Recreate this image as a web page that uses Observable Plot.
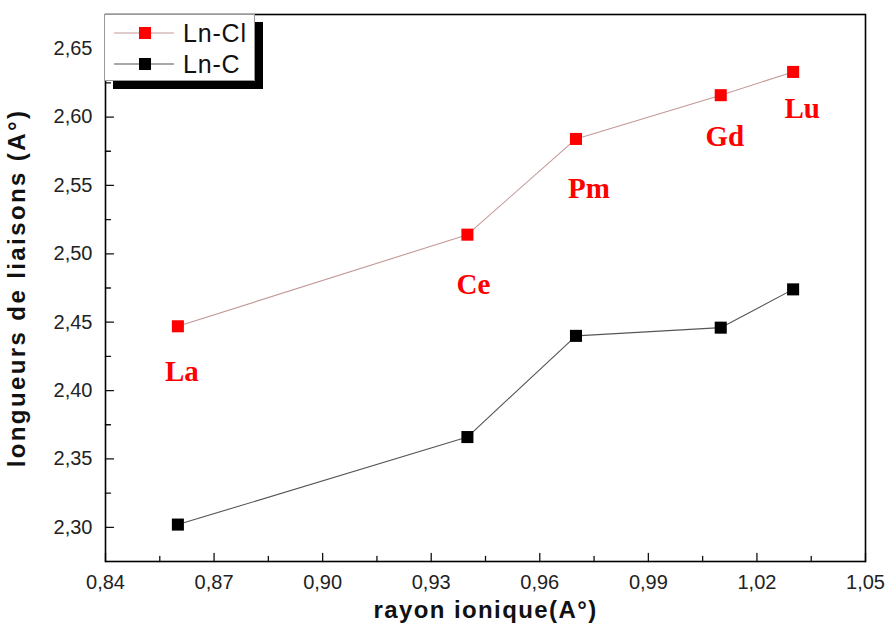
<!DOCTYPE html>
<html><head><meta charset="utf-8">
<script src="https://cdn.jsdelivr.net/npm/d3@7"></script>
<script src="https://cdn.jsdelivr.net/npm/@observablehq/plot@0.6"></script>
<style>body{margin:0;background:#fff;} svg{display:block}</style>
</head><body><div id="chart"></div>
<script>
const elements = ["La", "Ce", "Pm", "Gd", "Lu"];
const rayonIonique = [0.86, 0.94, 0.97, 1.01, 1.03];
const lnCl = [2.447, 2.514, 2.584, 2.616, 2.633];
const lnC = [2.302, 2.366, 2.440, 2.446, 2.474];
const seriesNames = ["Ln-Cl", "Ln-C"];
const xTicks = [0.84, 0.87, 0.90, 0.93, 0.96, 0.99, 1.02, 1.05];
const yTicks = [2.30, 2.35, 2.40, 2.45, 2.50, 2.55, 2.60, 2.65];
const xMinor = [0.855, 0.885, 0.915, 0.945, 0.975, 1.005, 1.035];
const yMinor = [2.325, 2.375, 2.425, 2.475, 2.525, 2.575, 2.625];
const labelOffsets = [[4, 45], [6, 50], [13, 50], [4, 42], [9, 37]];

const clRows = elements.map((el, i) => ({el, x: rayonIonique[i], y: lnCl[i]}));
const cRows = elements.map((el, i) => ({el, x: rayonIonique[i], y: lnC[i]}));
const fmt = d => d.toFixed(2).replace(".", ",");

const RED = "#ff0000";
const CL_LINE = "#c49898";
const C_LINE = "#555555";
const sans = "Liberation Sans, Arial, sans-serif";

const tickUp = {draw(ctx, l) { ctx.moveTo(0, 0); ctx.lineTo(0, -l); }};
const tickRight = {draw(ctx, l) { ctx.moveTo(0, 0); ctx.lineTo(l, 0); }};

const W = 886, H = 623, ML = 105, MR = 21, MT = 14, MB = 62;

const plot = Plot.plot({
  width: W, height: H,
  marginLeft: ML, marginRight: MR, marginTop: MT, marginBottom: MB,
  style: {fontFamily: sans, fontSize: "20px", background: "#fff", color: "#222"},
  x: {domain: [0.84, 1.05]},
  y: {domain: [2.275, 2.675]},
  marks: [
    Plot.axisX(xTicks, {tickSize: 0, tickPadding: 13, tickFormat: fmt, fontSize: 20, fontFamily: sans, fill: "#222", label: null}),
    Plot.axisY(yTicks, {tickSize: 0, tickPadding: 13, tickFormat: fmt, fontSize: 20, fontFamily: sans, fill: "#222", label: null}),
    Plot.vector(xTicks, {x: d => d, frameAnchor: "bottom", length: 8, anchor: "start", shape: tickUp, stroke: "#111", strokeWidth: 1.3}),
    Plot.vector(xMinor, {x: d => d, frameAnchor: "bottom", length: 5, anchor: "start", shape: tickUp, stroke: "#111", strokeWidth: 1.3}),
    Plot.vector(yTicks, {y: d => d, frameAnchor: "left", length: 8, anchor: "start", shape: tickRight, stroke: "#111", strokeWidth: 1.3}),
    Plot.vector(yMinor, {y: d => d, frameAnchor: "left", length: 5, anchor: "start", shape: tickRight, stroke: "#111", strokeWidth: 1.3}),
    Plot.line(clRows, {x: "x", y: "y", stroke: CL_LINE, strokeWidth: 1.1}),
    Plot.line(cRows, {x: "x", y: "y", stroke: C_LINE, strokeWidth: 1.1}),
    Plot.dot(clRows, {x: "x", y: "y", symbol: "square", r: 6.8, fill: RED}),
    Plot.dot(cRows, {x: "x", y: "y", symbol: "square", r: 6.8, fill: "#000"}),
    ...clRows.map((d, i) => Plot.text([d], {x: "x", y: "y", text: "el", dx: labelOffsets[i][0], dy: labelOffsets[i][1],
      fill: RED, fontFamily: "Liberation Serif, Times New Roman, serif", fontWeight: "bold", fontSize: 29})),
    Plot.text(["rayon ionique(A°)"], {text: d => d, frameAnchor: "bottom", textAnchor: "middle", dy: 56, fontSize: 24, fontWeight: "bold", fill: "#111", fontFamily: sans, className: "xlab"}),
    Plot.text(["longueurs de liaisons (A°)"], {text: d => d, frameAnchor: "left", textAnchor: "middle", dx: -88, rotate: -90, fontSize: 24, fontWeight: "bold", fill: "#111", fontFamily: sans, className: "ylab"}),
    Plot.frame({stroke: "#000", strokeWidth: 1.6})
  ]
});

const svg = d3.select(plot);
svg.selectAll(".xlab text").attr("letter-spacing", "1.4px");
svg.selectAll(".ylab text").attr("letter-spacing", "2.4px");

// Legend (boxed, with drop shadow), drawn inside the SVG
const lg = svg.append("g").attr("text-anchor", "start");
lg.append("rect").attr("x", 113).attr("y", 22).attr("width", 150).attr("height", 67).attr("fill", "#000");
lg.append("rect").attr("x", 104.5).attr("y", 14.5).attr("width", 150).attr("height", 66).attr("fill", "#fff").attr("stroke", "#999").attr("stroke-width", 1);
const legendItems = [
  {name: seriesNames[0], line: CL_LINE, fill: RED, y: 33},
  {name: seriesNames[1], line: C_LINE, fill: "#000", y: 64}
];
for (const it of legendItems) {
  lg.append("line").attr("x1", 114).attr("x2", 174).attr("y1", it.y).attr("y2", it.y).attr("stroke", it.line).attr("stroke-width", 1.1);
  lg.append("rect").attr("x", 139).attr("y", it.y - 6).attr("width", 12).attr("height", 12).attr("fill", it.fill);
  lg.append("text").attr("x", 183).attr("y", it.y).attr("dy", "0.35em").attr("text-anchor", "start")
    .attr("font-size", 25).attr("letter-spacing", "0.8px").attr("font-family", sans).attr("fill", "#111").text(it.name);
}

document.getElementById("chart").appendChild(plot);
</script>
</body></html>
